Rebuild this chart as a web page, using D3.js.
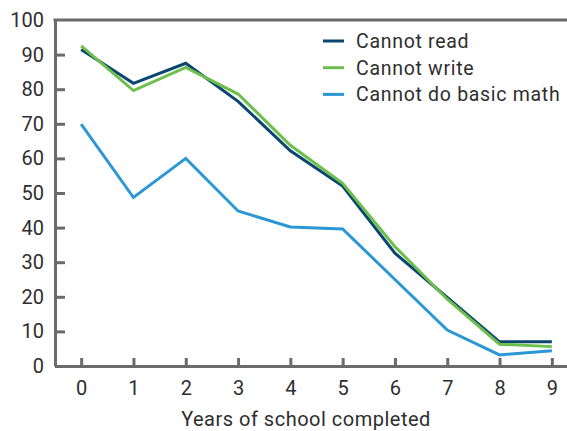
<!DOCTYPE html>
<html>
<head>
<meta charset="utf-8">
<script src="https://cdn.jsdelivr.net/npm/d3@7"></script>
<style>
  body { margin: 0; background: #fff; }
  text { font-family: Roboto, "Noto Sans", sans-serif; fill: #2e2e2e; }
</style>
</head>
<body>
<div id="chart-area"></div>
<script>
// Data
const years = [0, 1, 2, 3, 4, 5, 6, 7, 8, 9];
const cannotRead  = [91.5, 81.7, 87.5, 76.5, 62.2, 52.0, 32.6, 19.8, 7.0, 7.0];
const cannotWrite = [92.5, 79.6, 86.3, 78.6, 63.8, 52.8, 34.5, 19.3, 6.3, 5.6];
const cannotMath  = [69.9, 48.7, 60.0, 44.8, 40.2, 39.6, 25.0, 10.4, 3.2, 4.4];
const yTicks = [0, 10, 20, 30, 40, 50, 60, 70, 80, 90, 100];

const seriesNames  = ["Cannot read", "Cannot write", "Cannot do basic math"];
const seriesValues = [cannotRead, cannotWrite, cannotMath];
const seriesColors = ["#0b4670", "#6cbf4b", "#2b97d4"];

/* SVG */
const W = 567, H = 431;
const margin = { left: 55, top: 20, bottom: 65 };
const plotH = H - margin.top - margin.bottom;

const svg = d3.select("#chart-area")
    .append("svg")
    .attr("width", W)
    .attr("height", H);

/* Scales */
const xScale = d3.scaleLinear()
    .domain([-0.5, 9.5])
    .range([margin.left, margin.left + 523]);

const yScale = d3.scaleLinear()
    .domain([0, 100])
    .range([margin.top + plotH, margin.top]);

const axisColor = "#6b6b6b";

/* Axes */
const xAxis = svg.append("g")
    .attr("transform", `translate(0,${yScale(0)})`)
    .call(d3.axisBottom(xScale).tickValues(years).tickSize(-8).tickSizeOuter(0).tickPadding(15));

const yAxis = svg.append("g")
    .attr("transform", `translate(${margin.left},0)`)
    .call(d3.axisLeft(yScale).tickValues(yTicks).tickSize(-10).tickSizeOuter(0).tickPadding(11));

[xAxis, yAxis].forEach(a => {
    a.selectAll("path.domain").attr("stroke", axisColor).attr("stroke-width", 3);
    a.selectAll(".tick line").attr("stroke", axisColor).attr("stroke-width", 3);
    a.selectAll(".tick text").style("font-size", "20px").attr("fill", "#2e2e2e");
});
yAxis.select(".tick:last-of-type line").remove();

// top border line
svg.append("line")
    .attr("x1", margin.left - 1.5).attr("x2", W)
    .attr("y1", yScale(100)).attr("y2", yScale(100))
    .attr("stroke", axisColor).attr("stroke-width", 3);

/* Lines */
const line = d3.line()
    .x((d, i) => xScale(years[i]))
    .y(d => yScale(d));

seriesValues.forEach((vals, k) => {
    svg.append("path")
        .attr("d", line(vals))
        .attr("fill", "none")
        .attr("stroke", seriesColors[k])
        .attr("stroke-width", 3)
        .attr("stroke-linejoin", "miter");
});

/* Legend */
const legend = svg.append("g")
    .attr("transform", "translate(323,41)");

seriesNames.forEach((name, k) => {
    const g = legend.append("g").attr("transform", `translate(0,${k * 26.7})`);
    g.append("line")
        .attr("x1", 0).attr("x2", 21)
        .attr("stroke", seriesColors[k]).attr("stroke-width", 3);
    g.append("text")
        .attr("x", 33).attr("dy", "0.35em")
        .style("font-size", "19.5px")
        .style("letter-spacing", "0.7px")
        .text(name);
});

/* Axis title */
svg.append("text")
    .attr("x", 306).attr("y", 426)
    .attr("text-anchor", "middle")
    .style("font-size", "20px")
    .style("letter-spacing", "0.5px")
    .text("Years of school completed");
</script>
</body>
</html>
